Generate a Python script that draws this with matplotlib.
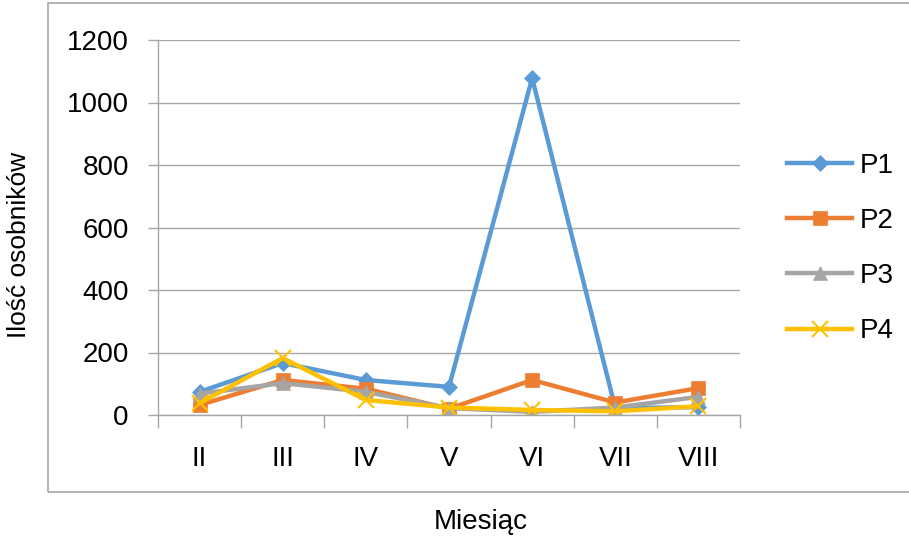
import matplotlib.pyplot as plt
from matplotlib.patches import Rectangle
import numpy as np

plt.rcParams['font.family'] = ['Liberation Sans', 'DejaVu Sans']

months = ['II', 'III', 'IV', 'V', 'VI', 'VII', 'VIII']
p1 = [74, 166, 112, 90, 1078, 22, 25]
p2 = [32, 112, 84, 20, 112, 40, 86]
p3 = [68, 102, 74, 22, 10, 24, 58]
p4 = [38, 182, 48, 24, 16, 12, 28]

series = [
    ('P1', p1, '#5B9BD5', 'D', 8),
    ('P2', p2, '#ED7D31', 's', 10),
    ('P3', p3, '#A5A5A5', '^', 10),
    ('P4', p4, '#FFC000', 'x', 11),
]

fig = plt.figure(figsize=(9.09, 5.36), dpi=100)
ax = fig.add_axes([158/909, 1 - 415/536, (740-158)/909, (415-40)/536])

index = np.arange(len(months))
for name, vals, col, mk, ms in series:
    ax.plot(index, vals, color=col, lw=3.2, marker=mk, markersize=ms,
            markeredgewidth=1.5 if mk == 'x' else 0.5, markeredgecolor=col, label=name)

ax.set_xlim(-0.5, len(months) - 0.5)
ax.set_ylim(0, 1200)
ax.set_yticks(range(0, 1201, 200))
ax.set_xticks(index)
ax.set_xticklabels(months, fontsize=20)
ax.tick_params(axis='x', length=0, pad=22)
ax.set_xticks(np.arange(-0.5, len(months)), minor=True)
ax.tick_params(axis='x', which='minor', length=9, color='#A6A6A6', width=1)
ax.tick_params(axis='y', labelsize=20, length=7, color='#A6A6A6', width=1, pad=14)
ax.grid(axis='y', color='#A6A6A6', lw=1)
ax.set_axisbelow(True)
for s in ['top', 'right']:
    ax.spines[s].set_visible(False)
for s in ['left', 'bottom']:
    ax.spines[s].set_color('#A6A6A6')
    ax.spines[s].set_linewidth(1)

fig.text(481/909, 1 - 522/536, 'Miesiąc', fontsize=20, ha='center', va='center')
fig.text(19/909, 1 - 245/536, 'Ilość osobników', rotation=90, fontsize=19,
         ha='center', va='center')

ax.legend(loc='center left', bbox_to_anchor=(1.038, 0.444), frameon=False,
          fontsize=20, labelspacing=1.05, handlelength=2.35, handletextpad=0.25)

fig.patches.append(Rectangle((48/909, 1 - 492/536), 1.0, (492-3)/536,
                             transform=fig.transFigure, fill=False,
                             edgecolor='#A6A6A6', lw=1.2, clip_on=False))

fig.savefig('out.png', dpi=100)
